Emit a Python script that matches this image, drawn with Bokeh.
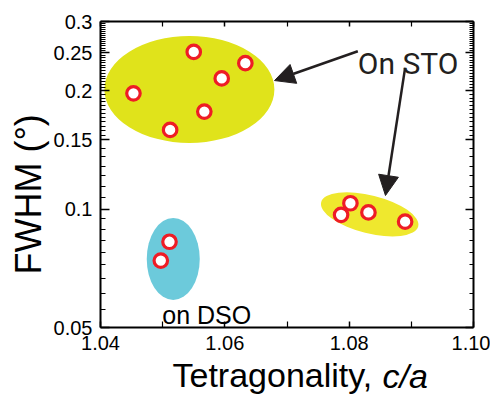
from bokeh.plotting import figure
from bokeh.models import (FixedTicker, LinearAxis, LogAxis, Label, Arrow,
                          NormalHead, PrintfTickFormatter, Title)
from bokeh.embed import file_html
from bokeh.resources import INLINE

# ---------------- data ----------------
sto_big_x = [1.0453, 1.0550, 1.0633, 1.0595, 1.0567, 1.0512]
sto_big_y = [0.197, 0.251, 0.235, 0.215, 0.177, 0.159]
sto_small_x = [1.0802, 1.0787, 1.0831, 1.0890]
sto_small_y = [0.1035, 0.0967, 0.0981, 0.0929]
dso_x = [1.0511, 1.0497]
dso_y = [0.0826, 0.0740]

x_major = [1.04, 1.06, 1.08, 1.10]
x_minor = [1.05, 1.07, 1.09]
y_major = [0.05, 0.1, 0.15, 0.2, 0.25, 0.3]
y_major_labels = ["0.05", "0.1", "0.15", "0.2", "0.25", "0.3"]
y_minor_counts = [9, 7, 12, 14, 15]

y_minor = []
for i, n in enumerate(y_minor_counts):
    a, b = y_major[i], y_major[i + 1]
    y_minor += [a + (b - a) * k / n for k in range(1, n)]

INK = "#231F20"
FONT = "Liberation Sans"

p = figure(frame_width=373, frame_height=306,
           x_range=(1.04, 1.10), y_range=(0.05, 0.3), y_axis_type="log",
           output_backend="svg", toolbar_location=None,
           min_border_left=100, min_border_right=17, min_border_top=21,
           min_border_bottom=66)
p.grid.visible = False
p.outline_line_color = None
p.background_fill_color = "white"
p.border_fill_color = "white"

# bottom axis
xa = p.xaxis[0]
xa.ticker = FixedTicker(ticks=x_major, minor_ticks=x_minor)
xa.formatter = PrintfTickFormatter(format="%.2f")
# left axis
ya = p.yaxis[0]
ya.ticker = FixedTicker(ticks=y_major, minor_ticks=y_minor)
ya.major_label_overrides = dict(zip(y_major, y_major_labels))

for ax in (xa, ya):
    ax.axis_line_width = 2
    ax.axis_line_color = "black"
    ax.major_tick_line_width = 1.5
    ax.minor_tick_line_width = 1.2
    ax.major_tick_out = 0
    ax.minor_tick_out = 0
    ax.major_label_text_font = FONT
    ax.major_label_text_font_size = "20px"
    ax.major_label_text_color = "black"
    ax.major_label_standoff = 8
xa.major_tick_in = 6
xa.minor_tick_in = 6
ya.major_tick_in = 9
ya.minor_tick_in = 5

top = LinearAxis(ticker=FixedTicker(ticks=x_major, minor_ticks=x_minor))
right = LogAxis(ticker=FixedTicker(ticks=y_major, minor_ticks=y_minor))
for ax in (top, right):
    ax.axis_line_width = 2
    ax.major_tick_out = 0
    ax.minor_tick_out = 0
    ax.major_tick_line_width = 1.5
    ax.minor_tick_line_width = 1.2
    ax.major_label_standoff = 0
    ax.major_label_text_font_size = "0px"
    ax.major_label_text_color = None
top.major_tick_in = 5
top.minor_tick_in = 5
right.major_tick_in = 8
right.minor_tick_in = 4
p.add_layout(top, "above")
p.add_layout(right, "right")

# axis titles (side-panel titles so they are not clipped)
p.add_layout(Title(text="FWHM (°)", align="left", offset=53, standoff=4,
                   vertical_align="bottom", text_font=FONT,
                   text_font_style="normal", text_font_size="36px",
                   text_color="black"), "left")
p.add_layout(Title(text="Tetragonality, ", align="left", offset=72, standoff=6,
                   vertical_align="top", text_font=FONT,
                   text_font_style="normal", text_font_size="34px",
                   text_color="black"), "below")
p.add_layout(Title(text="c/a", align="left", offset=282, standoff=-84,
                   vertical_align="top", text_font=FONT,
                   text_font_style="italic", text_font_size="34px",
                   text_color="black"), "below")

# highlight ellipses
p.ellipse(x=[1.0543], y=[0.2015], width=170, height=107,
          width_units="screen", height_units="screen",
          fill_color="#E0E31B", line_color=None)
p.ellipse(x=[1.0833], y=[0.0970], width=100, height=38, angle=-14,
          angle_units="deg", width_units="screen", height_units="screen",
          fill_color="#EFE82E", line_color=None)
p.ellipse(x=[1.0517], y=[0.0747], width=53, height=82,
          width_units="screen", height_units="screen",
          fill_color="#6CCADB", line_color=None)

# points
for xs, ys in ((sto_big_x, sto_big_y), (sto_small_x, sto_small_y), (dso_x, dso_y)):
    p.scatter(xs, ys, size=13.5, fill_color="white", line_color="#EE1C25",
              line_width=3.2)

# arrows
for xs, ys, xe, ye in ((1.08139, 0.2520, 1.06799, 0.2123),
                       (1.0890, 0.2287, 1.08584, 0.1083)):
    p.add_layout(Arrow(end=NormalHead(size=20, fill_color=INK, line_color=INK),
                       x_start=xs, y_start=ys, x_end=xe, y_end=ye,
                       line_width=2.5, line_color=INK))

# annotations
p.add_layout(Label(x=1.08139, y=0.2342, text="On STO", text_font="Roboto",
                   text_font_size="30px", text_color=INK,
                   text_baseline="alphabetic"))
p.add_layout(Label(x=1.04993, y=0.05364, text="on DSO", text_font=FONT,
                   text_font_size="25px", text_color="black",
                   text_baseline="alphabetic"))

open("out.html", "w").write(file_html(p, INLINE))
